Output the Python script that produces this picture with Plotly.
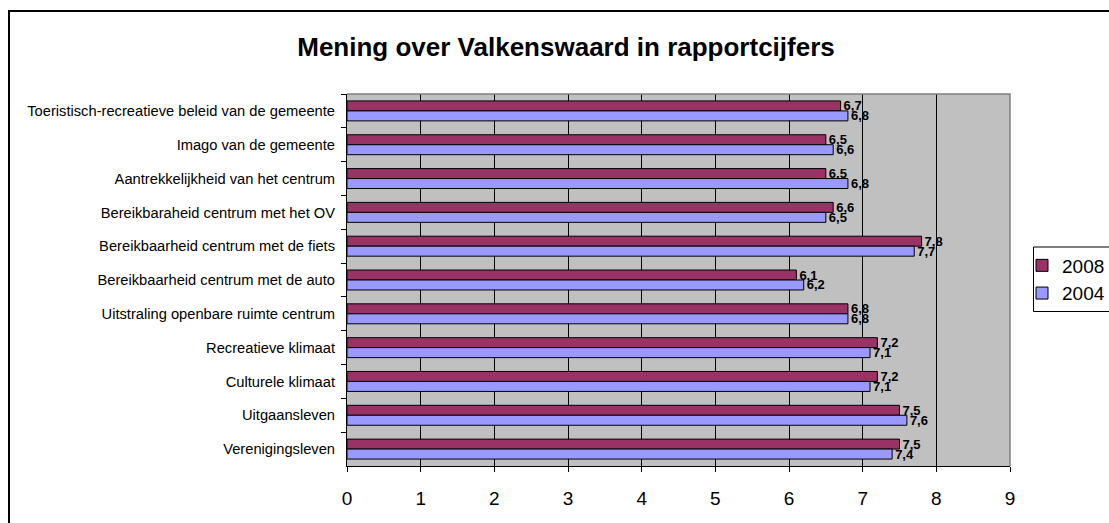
import plotly.graph_objects as go

categories = [
    "Toeristisch-recreatieve beleid van de gemeente",
    "Imago van de gemeente",
    "Aantrekkelijkheid van het centrum",
    "Bereikbaraheid centrum met het OV",
    "Bereikbaarheid centrum met de fiets",
    "Bereikbaarheid centrum met de auto",
    "Uitstraling openbare ruimte centrum",
    "Recreatieve klimaat",
    "Culturele klimaat",
    "Uitgaansleven",
    "Verenigingsleven",
]
values_2008 = [6.7, 6.5, 6.5, 6.6, 7.8, 6.1, 6.8, 7.2, 7.2, 7.5, 7.5]
values_2004 = [6.8, 6.6, 6.8, 6.5, 7.7, 6.2, 6.8, 7.1, 7.1, 7.6, 7.4]
x_ticks = list(range(0, 10))
title_text = "Mening over Valkenswaard in rapportcijfers"

FONT = "Arial, Liberation Sans, sans-serif"
W, H = 1109, 523
L, R, T, B = 347, 99, 94, 57
pw, ph = W - L - R, H - T - B


def fmt(v):
    return f"{v:.1f}".replace(".", ",")


def px_to_paper_x(px):
    return (px - L) / pw


def px_to_paper_y(py):
    return (H - B - py) / ph


fig = go.Figure()
for name, vals, color in [("2008", values_2008, "#993366"), ("2004", values_2004, "#9999FF")]:
    fig.add_trace(go.Bar(
        y=categories, x=vals, name=name, orientation="h",
        marker=dict(color=color, line=dict(color="black", width=1)),
        text=[fmt(v) for v in vals], textposition="outside",
        textfont=dict(family=FONT, size=13, color="black", weight="bold"),
        constraintext="none", cliponaxis=False,
    ))

fig.update_layout(
    width=W, height=H,
    margin=dict(l=L, r=R, t=T, b=B, autoexpand=False),
    paper_bgcolor="white", plot_bgcolor="#C0C0C0",
    barmode="group", bargap=0.41, bargroupgap=0,
    font=dict(family=FONT, color="black"),
    title=dict(text=title_text, x=566 / W, xref="container", xanchor="center",
               y=1 - 47 / H, yref="container", yanchor="middle",
               font=dict(family=FONT, size=26, color="black", weight="bold")),
    showlegend=True,
    legend=dict(x=px_to_paper_x(1022), y=px_to_paper_y(279.5), xanchor="left", yanchor="middle",
                borderwidth=0, bgcolor="rgba(0,0,0,0)",
                font=dict(family=FONT, size=19, color="black"), tracegroupgap=0),
)

fig.update_xaxes(range=[0, 9], tickvals=x_ticks, ticktext=[str(t) for t in x_ticks],
                 ticks="outside", ticklen=5, tickcolor="black", tickwidth=1,
                 showline=True, linecolor="black", linewidth=1,
                 showgrid=True, gridcolor="black", gridwidth=1, zeroline=False,
                 tickfont=dict(family=FONT, size=19, color="black"), ticklabelstandoff=10)
fig.update_yaxes(type="category", categoryorder="array", categoryarray=categories,
                 autorange="reversed", tickson="boundaries",
                 ticks="outside", ticklen=5, tickcolor="black", tickwidth=1,
                 showline=True, linecolor="black", linewidth=1, showgrid=False,
                 tickfont=dict(family=FONT, size=14.7, color="black"), ticklabelstandoff=8)

# plot-area border (gray, top and right) and outer chart frame
fig.add_shape(type="path", xref="paper", yref="paper", path="M 0 1 L 1 1 L 1 0",
              line=dict(color="#808080", width=1.5), layer="above")
fig.add_shape(type="rect", xref="paper", yref="paper",
              x0=px_to_paper_x(9), x1=px_to_paper_x(1200),
              y0=px_to_paper_y(600), y1=px_to_paper_y(11),
              line=dict(color="black", width=2), fillcolor="rgba(0,0,0,0)")
# legend box
fig.add_shape(type="rect", xref="paper", yref="paper",
              x0=px_to_paper_x(1033.5), x1=px_to_paper_x(1200),
              y0=px_to_paper_y(311.5), y1=px_to_paper_y(247),
              line=dict(color="black", width=1), fillcolor="white", layer="below")

fig.write_html("out.html", config={"displayModeBar": False},
               post_script="document.body.style.margin='0';document.body.style.overflow='hidden';")
